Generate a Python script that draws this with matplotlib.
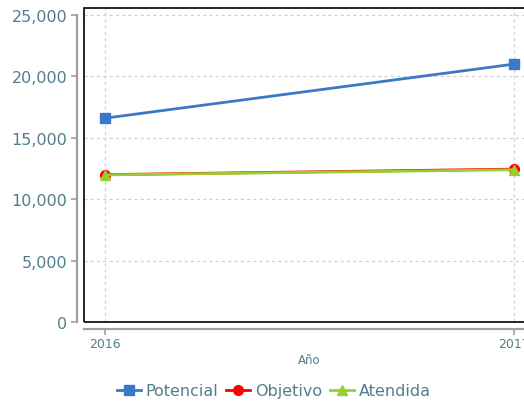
import matplotlib
matplotlib.use("Agg")
import matplotlib.pyplot as plt
from matplotlib.patches import Rectangle
from matplotlib.ticker import FuncFormatter

years = [2016, 2017]
potencial = [16600, 21000]
objetivo = [12000, 12450]
atendida = [11980, 12400]
yticks = [0, 5000, 10000, 15000, 20000, 25000]

txt = "#527e8b"
plt.rcParams['font.family'] = ['DejaVu Sans']

fig = plt.figure(figsize=(5.24, 4.02), dpi=100)
ax = fig.add_axes([84/524, 79/402, 451/524, 314/402])

ax.plot(years, potencial, color="#3b78c8", lw=2.0, marker="s", ms=7, label="Potencial", zorder=3)
ax.plot(years, objetivo, color="#ff0000", lw=2.0, marker="o", ms=7, label="Objetivo", zorder=3)
ax.plot(years, atendida, color="#9acd32", lw=2.0, marker="^", ms=7, label="Atendida", zorder=4)

ax.set_xlim(2016 - 21/409, 2017 + 21/409)
ax.set_ylim(0, 25000 * 314/307)
ax.set_xticks(years)
ax.set_yticks(yticks)
ax.yaxis.set_major_formatter(FuncFormatter(lambda v, p: f"{int(v):,}"))
ax.grid(True, color="#d0d0d0", ls=(0, (2.5, 2.5)), lw=0.9)
ax.set_axisbelow(True)

for s in ["top", "right"]:
    ax.spines[s].set_visible(False)
for s in ["left", "bottom"]:
    ax.spines[s].set_position(("outward", 5))
    ax.spines[s].set_color("#a0a0a0")
    ax.spines[s].set_linewidth(1.6)
ax.spines["left"].set_bounds(0, 25000)
ax.add_patch(Rectangle((0, 0), 1, 1, transform=ax.transAxes, fill=False,
                       ec="black", lw=1.2, clip_on=False, zorder=5))

ax.tick_params(axis="y", colors="#a0a0a0", labelcolor=txt, labelsize=11.5, length=4, width=1.2, pad=3)
ax.tick_params(axis="x", colors="#a0a0a0", labelcolor=txt, labelsize=9, length=4, width=1.2, pad=2)
ax.set_xlabel("Año", color=txt, fontsize=8.5, labelpad=2)

leg = fig.legend(loc="center", bbox_to_anchor=(274/524, 1 - 392/402), ncol=3, frameon=False,
                 fontsize=11.5, handlelength=1.5, handletextpad=0.3, columnspacing=0.5)
for t in leg.get_texts():
    t.set_color(txt)

fig.savefig("out.png", dpi=100)
